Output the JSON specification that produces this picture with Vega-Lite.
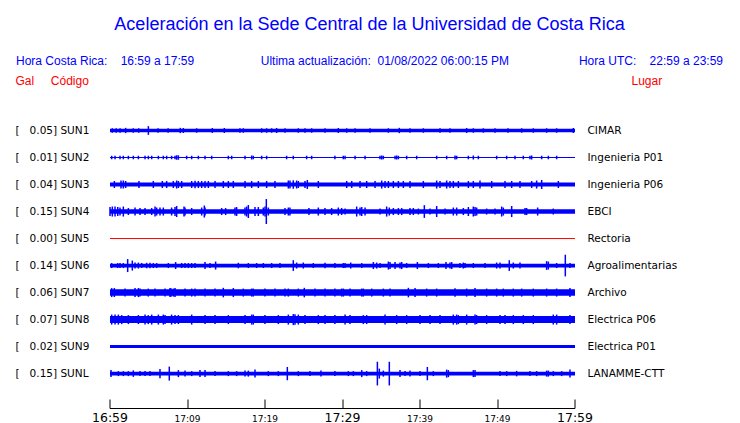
{
  "$schema": "https://vega.github.io/schema/vega-lite/v6.json",
  "width": 465,
  "height": 292,
  "autosize": {"type": "none"},
  "padding": {"left": 110, "top": 116.5, "right": 165, "bottom": 14.5},
  "background": "white",
  "title": {
    "text": "Aceleración en la Sede Central de la Universidad de Costa Rica",
    "subtitle": "Hora Costa Rica:\u00a0\u00a0\u00a0\u00a016:59 a 17:59\u00a0\u00a0\u00a0\u00a0\u00a0\u00a0\u00a0\u00a0\u00a0\u00a0\u00a0\u00a0\u00a0\u00a0\u00a0\u00a0\u00a0\u00a0\u00a0\u00a0Ultima actualización:\u00a0\u00a001/08/2022 06:00:15 PM\u00a0\u00a0\u00a0\u00a0\u00a0\u00a0\u00a0\u00a0\u00a0\u00a0\u00a0\u00a0\u00a0\u00a0\u00a0\u00a0\u00a0\u00a0\u00a0\u00a0\u00a0Hora UTC:\u00a0\u00a0\u00a0\u00a022:59 a 23:59",
    "anchor": "middle",
    "frame": "group",
    "dx": 27,
    "offset": 8,
    "font": "Liberation Sans",
    "fontSize": 18,
    "fontWeight": "normal",
    "color": "#0000ff",
    "subtitleFont": "Liberation Sans",
    "subtitleFontSize": 12,
    "subtitleColor": "#0000ff",
    "subtitlePadding": 22
  },
  "datasets": {
    "stations": [
      {"code": "SUN1", "gal": 0.05, "place": "CIMAR", "noise": 3.5},
      {"code": "SUN2", "gal": 0.01, "place": "Ingenieria P01", "noise": 1.2},
      {"code": "SUN3", "gal": 0.04, "place": "Ingenieria P06", "noise": 4},
      {"code": "SUN4", "gal": 0.15, "place": "EBCI", "noise": 4.5},
      {"code": "SUN5", "gal": 0.0, "place": "Rectoria", "noise": 1},
      {"code": "SUN6", "gal": 0.14, "place": "Agroalimentarias", "noise": 3.7},
      {"code": "SUN7", "gal": 0.06, "place": "Archivo", "noise": 6.5},
      {"code": "SUN8", "gal": 0.07, "place": "Electrica P06", "noise": 7},
      {"code": "SUN9", "gal": 0.02, "place": "Electrica P01", "noise": 3},
      {"code": "SUNL", "gal": 0.15, "place": "LANAMME-CTT", "noise": 3.7}
    ],
    "traces": [
      {"code":"SUN1","t":0.3,"amp":4.5},{"code":"SUN1","t":0.8,"amp":4.5},{"code":"SUN1","t":1.3,"amp":4.5},{"code":"SUN1","t":2.02,"amp":5.3},{"code":"SUN1","t":3.0,"amp":4.5},{"code":"SUN1","t":3.7,"amp":4.5},{"code":"SUN1","t":4.95,"amp":8.7},{"code":"SUN1","t":6.2,"amp":4.5},{"code":"SUN1","t":7.5,"amp":4.5},{"code":"SUN1","t":9.07,"amp":5.3},{"code":"SUN1","t":9.46,"amp":5},{"code":"SUN1","t":11.18,"amp":4.5},{"code":"SUN1","t":13.2,"amp":5},{"code":"SUN1","t":14.75,"amp":5},{"code":"SUN1","t":16.77,"amp":4.5},{"code":"SUN1","t":17.2,"amp":4.5},{"code":"SUN1","t":19.57,"amp":4.5},{"code":"SUN1","t":20.21,"amp":4.5},{"code":"SUN1","t":20.86,"amp":4.5},{"code":"SUN1","t":21.5,"amp":5},{"code":"SUN1","t":22.58,"amp":4.5},{"code":"SUN1","t":24.3,"amp":4.5},{"code":"SUN1","t":25.16,"amp":4.5},{"code":"SUN1","t":26.02,"amp":4.5},{"code":"SUN1","t":27.74,"amp":4.5},{"code":"SUN1","t":29.46,"amp":5},{"code":"SUN1","t":30.54,"amp":4.5},{"code":"SUN1","t":31.62,"amp":4.5},{"code":"SUN1","t":33.55,"amp":4.5},{"code":"SUN1","t":35.92,"amp":4.5},{"code":"SUN1","t":37.33,"amp":5.3},{"code":"SUN1","t":38.71,"amp":4.5},{"code":"SUN1","t":40.43,"amp":4.5},{"code":"SUN1","t":42.58,"amp":4.5},{"code":"SUN1","t":43.87,"amp":4.5},{"code":"SUN1","t":46.02,"amp":5},{"code":"SUN1","t":46.88,"amp":4.5},{"code":"SUN1","t":48.17,"amp":4.5},{"code":"SUN1","t":49.68,"amp":4.5},{"code":"SUN1","t":51.36,"amp":4.5},{"code":"SUN1","t":53.12,"amp":4.5},{"code":"SUN1","t":54.62,"amp":4.5},{"code":"SUN1","t":56.34,"amp":4.5},{"code":"SUN1","t":57.63,"amp":4.5},{"code":"SUN1","t":59.78,"amp":5},
      {"code":"SUN2","t":0.22,"amp":3.5},{"code":"SUN2","t":0.65,"amp":3.5},{"code":"SUN2","t":1.29,"amp":3.5},{"code":"SUN2","t":1.72,"amp":3.5},{"code":"SUN2","t":2.37,"amp":3.5},{"code":"SUN2","t":3.01,"amp":3.5},{"code":"SUN2","t":3.66,"amp":3.5},{"code":"SUN2","t":4.52,"amp":3.5},{"code":"SUN2","t":4.95,"amp":3.5},{"code":"SUN2","t":5.38,"amp":3.5},{"code":"SUN2","t":6.24,"amp":3.5},{"code":"SUN2","t":6.88,"amp":3.5},{"code":"SUN2","t":7.31,"amp":3.5},{"code":"SUN2","t":7.95,"amp":3.5},{"code":"SUN2","t":8.39,"amp":3.5},{"code":"SUN2","t":8.6,"amp":4.5},{"code":"SUN2","t":8.82,"amp":4.5},{"code":"SUN2","t":9.89,"amp":3.5},{"code":"SUN2","t":10.54,"amp":3.5},{"code":"SUN2","t":11.4,"amp":3.5},{"code":"SUN2","t":12.26,"amp":3.5},{"code":"SUN2","t":13.12,"amp":3.5},{"code":"SUN2","t":15.27,"amp":3.5},{"code":"SUN2","t":15.7,"amp":3.5},{"code":"SUN2","t":17.42,"amp":3.5},{"code":"SUN2","t":18.28,"amp":4},{"code":"SUN2","t":18.49,"amp":3.5},{"code":"SUN2","t":19.57,"amp":3.5},{"code":"SUN2","t":20.21,"amp":3.5},{"code":"SUN2","t":22.79,"amp":3.5},{"code":"SUN2","t":23.65,"amp":3.5},{"code":"SUN2","t":25.37,"amp":3.5},{"code":"SUN2","t":26.02,"amp":3.5},{"code":"SUN2","t":29.02,"amp":3.5},{"code":"SUN2","t":30.1,"amp":3.5},{"code":"SUN2","t":30.33,"amp":3.5},{"code":"SUN2","t":31.62,"amp":3.5},{"code":"SUN2","t":32.91,"amp":3.5},{"code":"SUN2","t":34.84,"amp":3.5},{"code":"SUN2","t":35.06,"amp":4},{"code":"SUN2","t":35.27,"amp":3.5},{"code":"SUN2","t":36.78,"amp":3.5},{"code":"SUN2","t":36.99,"amp":4},{"code":"SUN2","t":37.21,"amp":3.5},{"code":"SUN2","t":38.28,"amp":3.5},{"code":"SUN2","t":39.57,"amp":3.5},{"code":"SUN2","t":42.15,"amp":3.5},{"code":"SUN2","t":43.44,"amp":3.5},{"code":"SUN2","t":44.52,"amp":4},{"code":"SUN2","t":44.73,"amp":3.5},{"code":"SUN2","t":46.24,"amp":3.5},{"code":"SUN2","t":46.88,"amp":4},{"code":"SUN2","t":47.53,"amp":3.5},{"code":"SUN2","t":49.89,"amp":3.5},{"code":"SUN2","t":51.18,"amp":3.5},{"code":"SUN2","t":52.26,"amp":3.5},{"code":"SUN2","t":53.33,"amp":3.5},{"code":"SUN2","t":54.19,"amp":3.5},{"code":"SUN2","t":54.41,"amp":4},{"code":"SUN2","t":55.7,"amp":3.5},{"code":"SUN2","t":56.56,"amp":3.5},{"code":"SUN2","t":57.63,"amp":3.5},
      {"code":"SUN3","t":0.56,"amp":7},{"code":"SUN3","t":1.42,"amp":8},{"code":"SUN3","t":1.72,"amp":8},{"code":"SUN3","t":2.02,"amp":7},{"code":"SUN3","t":3.74,"amp":7},{"code":"SUN3","t":5.59,"amp":7},{"code":"SUN3","t":6.75,"amp":7},{"code":"SUN3","t":7.31,"amp":7},{"code":"SUN3","t":8.17,"amp":7},{"code":"SUN3","t":8.6,"amp":8},{"code":"SUN3","t":8.82,"amp":7},{"code":"SUN3","t":9.25,"amp":7},{"code":"SUN3","t":10.54,"amp":7},{"code":"SUN3","t":10.97,"amp":7.5},{"code":"SUN3","t":11.4,"amp":7},{"code":"SUN3","t":11.83,"amp":7},{"code":"SUN3","t":12.26,"amp":7},{"code":"SUN3","t":12.69,"amp":7},{"code":"SUN3","t":13.55,"amp":7},{"code":"SUN3","t":14.62,"amp":7},{"code":"SUN3","t":15.27,"amp":7},{"code":"SUN3","t":15.91,"amp":7},{"code":"SUN3","t":17.42,"amp":7},{"code":"SUN3","t":18.28,"amp":7},{"code":"SUN3","t":19.14,"amp":7},{"code":"SUN3","t":20.21,"amp":7},{"code":"SUN3","t":21.29,"amp":7},{"code":"SUN3","t":23.01,"amp":8},{"code":"SUN3","t":23.22,"amp":8},{"code":"SUN3","t":23.65,"amp":8.5},{"code":"SUN3","t":24.08,"amp":8},{"code":"SUN3","t":24.3,"amp":7},{"code":"SUN3","t":25.16,"amp":7},{"code":"SUN3","t":25.46,"amp":9},{"code":"SUN3","t":26.88,"amp":7},{"code":"SUN3","t":30.54,"amp":7},{"code":"SUN3","t":31.19,"amp":7},{"code":"SUN3","t":32.26,"amp":7},{"code":"SUN3","t":33.12,"amp":7},{"code":"SUN3","t":34.2,"amp":7},{"code":"SUN3","t":35.06,"amp":8},{"code":"SUN3","t":35.49,"amp":7},{"code":"SUN3","t":35.92,"amp":7},{"code":"SUN3","t":36.56,"amp":7},{"code":"SUN3","t":37.21,"amp":7},{"code":"SUN3","t":37.85,"amp":7},{"code":"SUN3","t":38.71,"amp":7},{"code":"SUN3","t":40.43,"amp":7},{"code":"SUN3","t":42.15,"amp":8},{"code":"SUN3","t":42.58,"amp":7},{"code":"SUN3","t":43.44,"amp":8},{"code":"SUN3","t":43.87,"amp":7},{"code":"SUN3","t":44.3,"amp":7},{"code":"SUN3","t":44.95,"amp":7},{"code":"SUN3","t":46.24,"amp":7},{"code":"SUN3","t":46.88,"amp":7},{"code":"SUN3","t":47.74,"amp":8},{"code":"SUN3","t":49.25,"amp":7},{"code":"SUN3","t":50.97,"amp":7},{"code":"SUN3","t":51.83,"amp":7},{"code":"SUN3","t":52.9,"amp":7},{"code":"SUN3","t":54.41,"amp":7},{"code":"SUN3","t":55.05,"amp":8},{"code":"SUN3","t":55.7,"amp":9},{"code":"SUN3","t":57.85,"amp":7},
      {"code":"SUN4","t":0.0,"amp":9},{"code":"SUN4","t":0.3,"amp":10},{"code":"SUN4","t":0.65,"amp":10},{"code":"SUN4","t":1.0,"amp":9},{"code":"SUN4","t":1.29,"amp":8},{"code":"SUN4","t":1.72,"amp":10},{"code":"SUN4","t":2.37,"amp":7},{"code":"SUN4","t":3.23,"amp":8},{"code":"SUN4","t":3.87,"amp":7},{"code":"SUN4","t":4.52,"amp":7},{"code":"SUN4","t":5.38,"amp":7},{"code":"SUN4","t":5.81,"amp":10},{"code":"SUN4","t":6.02,"amp":8},{"code":"SUN4","t":6.45,"amp":8},{"code":"SUN4","t":6.88,"amp":8},{"code":"SUN4","t":7.95,"amp":8},{"code":"SUN4","t":8.39,"amp":9},{"code":"SUN4","t":8.6,"amp":11},{"code":"SUN4","t":9.55,"amp":10},{"code":"SUN4","t":9.68,"amp":8},{"code":"SUN4","t":10.54,"amp":7},{"code":"SUN4","t":11.83,"amp":8},{"code":"SUN4","t":12.17,"amp":12},{"code":"SUN4","t":12.26,"amp":8},{"code":"SUN4","t":14.41,"amp":7},{"code":"SUN4","t":14.92,"amp":7},{"code":"SUN4","t":16.13,"amp":8},{"code":"SUN4","t":16.34,"amp":9},{"code":"SUN4","t":17.42,"amp":8},{"code":"SUN4","t":17.63,"amp":10},{"code":"SUN4","t":17.85,"amp":13},{"code":"SUN4","t":18.71,"amp":9},{"code":"SUN4","t":19.14,"amp":9},{"code":"SUN4","t":19.78,"amp":8},{"code":"SUN4","t":20.0,"amp":10},{"code":"SUN4","t":20.17,"amp":25},{"code":"SUN4","t":20.43,"amp":8},{"code":"SUN4","t":22.58,"amp":7},{"code":"SUN4","t":23.01,"amp":8},{"code":"SUN4","t":23.22,"amp":8},{"code":"SUN4","t":25.67,"amp":7},{"code":"SUN4","t":26.88,"amp":8},{"code":"SUN4","t":27.74,"amp":7},{"code":"SUN4","t":28.6,"amp":7},{"code":"SUN4","t":29.46,"amp":8},{"code":"SUN4","t":29.89,"amp":7},{"code":"SUN4","t":30.33,"amp":6},{"code":"SUN4","t":31.83,"amp":10},{"code":"SUN4","t":32.26,"amp":8},{"code":"SUN4","t":32.48,"amp":9},{"code":"SUN4","t":32.91,"amp":8},{"code":"SUN4","t":34.84,"amp":6},{"code":"SUN4","t":35.7,"amp":10},{"code":"SUN4","t":36.04,"amp":8},{"code":"SUN4","t":36.56,"amp":7},{"code":"SUN4","t":37.21,"amp":7},{"code":"SUN4","t":37.64,"amp":7},{"code":"SUN4","t":38.71,"amp":7},{"code":"SUN4","t":39.14,"amp":7},{"code":"SUN4","t":39.79,"amp":6},{"code":"SUN4","t":40.56,"amp":12.7},{"code":"SUN4","t":41.29,"amp":6},{"code":"SUN4","t":42.15,"amp":11},{"code":"SUN4","t":43.23,"amp":6},{"code":"SUN4","t":44.3,"amp":8},{"code":"SUN4","t":44.73,"amp":8},{"code":"SUN4","t":45.59,"amp":7},{"code":"SUN4","t":46.24,"amp":9},{"code":"SUN4","t":46.88,"amp":10},{"code":"SUN4","t":47.1,"amp":9},{"code":"SUN4","t":47.31,"amp":8},{"code":"SUN4","t":48.6,"amp":6},{"code":"SUN4","t":49.68,"amp":6},{"code":"SUN4","t":50.54,"amp":10},{"code":"SUN4","t":50.75,"amp":8},{"code":"SUN4","t":51.83,"amp":11},{"code":"SUN4","t":53.55,"amp":7},{"code":"SUN4","t":53.76,"amp":7},{"code":"SUN4","t":55.18,"amp":8},{"code":"SUN4","t":57.2,"amp":6},
      {"code":"SUN6","t":0.22,"amp":5},{"code":"SUN6","t":0.99,"amp":5},{"code":"SUN6","t":1.29,"amp":5},{"code":"SUN6","t":1.72,"amp":5},{"code":"SUN6","t":2.28,"amp":13},{"code":"SUN6","t":2.88,"amp":10},{"code":"SUN6","t":3.23,"amp":6},{"code":"SUN6","t":3.66,"amp":6},{"code":"SUN6","t":4.09,"amp":5},{"code":"SUN6","t":4.73,"amp":5.5},{"code":"SUN6","t":5.16,"amp":5.5},{"code":"SUN6","t":5.59,"amp":5},{"code":"SUN6","t":6.02,"amp":5},{"code":"SUN6","t":7.53,"amp":5},{"code":"SUN6","t":8.47,"amp":7},{"code":"SUN6","t":9.25,"amp":5},{"code":"SUN6","t":9.68,"amp":5},{"code":"SUN6","t":10.11,"amp":5},{"code":"SUN6","t":10.54,"amp":5},{"code":"SUN6","t":10.97,"amp":5},{"code":"SUN6","t":12.26,"amp":7},{"code":"SUN6","t":12.9,"amp":5},{"code":"SUN6","t":13.63,"amp":8},{"code":"SUN6","t":16.56,"amp":5.5},{"code":"SUN6","t":17.85,"amp":5},{"code":"SUN6","t":18.92,"amp":5},{"code":"SUN6","t":19.78,"amp":5},{"code":"SUN6","t":20.86,"amp":5},{"code":"SUN6","t":21.93,"amp":5},{"code":"SUN6","t":23.65,"amp":10.7},{"code":"SUN6","t":24.08,"amp":6},{"code":"SUN6","t":24.94,"amp":6},{"code":"SUN6","t":26.23,"amp":5},{"code":"SUN6","t":27.74,"amp":5.5},{"code":"SUN6","t":29.02,"amp":5},{"code":"SUN6","t":30.1,"amp":5},{"code":"SUN6","t":30.33,"amp":5},{"code":"SUN6","t":31.06,"amp":6},{"code":"SUN6","t":32.48,"amp":5},{"code":"SUN6","t":33.98,"amp":7},{"code":"SUN6","t":34.41,"amp":6},{"code":"SUN6","t":34.84,"amp":5},{"code":"SUN6","t":35.92,"amp":8},{"code":"SUN6","t":36.13,"amp":7},{"code":"SUN6","t":36.78,"amp":7},{"code":"SUN6","t":37.42,"amp":6},{"code":"SUN6","t":37.64,"amp":7},{"code":"SUN6","t":38.28,"amp":5},{"code":"SUN6","t":39.66,"amp":7},{"code":"SUN6","t":41.08,"amp":5},{"code":"SUN6","t":42.37,"amp":5},{"code":"SUN6","t":43.35,"amp":7},{"code":"SUN6","t":43.87,"amp":6},{"code":"SUN6","t":44.09,"amp":7},{"code":"SUN6","t":45.16,"amp":5},{"code":"SUN6","t":45.59,"amp":6},{"code":"SUN6","t":45.81,"amp":5},{"code":"SUN6","t":46.88,"amp":5},{"code":"SUN6","t":48.39,"amp":5},{"code":"SUN6","t":49.89,"amp":6},{"code":"SUN6","t":50.32,"amp":6},{"code":"SUN6","t":51.52,"amp":10.7},{"code":"SUN6","t":52.04,"amp":6},{"code":"SUN6","t":52.9,"amp":6},{"code":"SUN6","t":56.34,"amp":8.7},{"code":"SUN6","t":56.56,"amp":8},{"code":"SUN6","t":57.63,"amp":5},{"code":"SUN6","t":58.75,"amp":21.7},{"code":"SUN6","t":59.35,"amp":5},
      {"code":"SUN7","t":0.22,"amp":9},{"code":"SUN7","t":0.56,"amp":9},{"code":"SUN7","t":1.94,"amp":8},{"code":"SUN7","t":3.23,"amp":9},{"code":"SUN7","t":3.66,"amp":9},{"code":"SUN7","t":3.87,"amp":8},{"code":"SUN7","t":4.94,"amp":8},{"code":"SUN7","t":5.81,"amp":8},{"code":"SUN7","t":7.1,"amp":8},{"code":"SUN7","t":7.74,"amp":9},{"code":"SUN7","t":7.87,"amp":8.5},{"code":"SUN7","t":8.17,"amp":8},{"code":"SUN7","t":8.39,"amp":9},{"code":"SUN7","t":9.68,"amp":8},{"code":"SUN7","t":10.54,"amp":8},{"code":"SUN7","t":10.97,"amp":8},{"code":"SUN7","t":12.26,"amp":8},{"code":"SUN7","t":13.55,"amp":8},{"code":"SUN7","t":14.62,"amp":9.5},{"code":"SUN7","t":15.91,"amp":9},{"code":"SUN7","t":17.2,"amp":8},{"code":"SUN7","t":18.28,"amp":8},{"code":"SUN7","t":18.49,"amp":8},{"code":"SUN7","t":19.99,"amp":8},{"code":"SUN7","t":21.29,"amp":8},{"code":"SUN7","t":22.58,"amp":8},{"code":"SUN7","t":23.01,"amp":8},{"code":"SUN7","t":24.3,"amp":8},{"code":"SUN7","t":25.07,"amp":9.5},{"code":"SUN7","t":26.45,"amp":8},{"code":"SUN7","t":27.74,"amp":8},{"code":"SUN7","t":29.02,"amp":8},{"code":"SUN7","t":29.89,"amp":8},{"code":"SUN7","t":30.11,"amp":8},{"code":"SUN7","t":30.97,"amp":8},{"code":"SUN7","t":32.48,"amp":8},{"code":"SUN7","t":32.69,"amp":8},{"code":"SUN7","t":33.77,"amp":8},{"code":"SUN7","t":35.27,"amp":8},{"code":"SUN7","t":36.13,"amp":8},{"code":"SUN7","t":38.5,"amp":9.5},{"code":"SUN7","t":39.36,"amp":9},{"code":"SUN7","t":40.86,"amp":8},{"code":"SUN7","t":42.15,"amp":8},{"code":"SUN7","t":44.52,"amp":8.5},{"code":"SUN7","t":46.02,"amp":8},{"code":"SUN7","t":47.1,"amp":9},{"code":"SUN7","t":48.6,"amp":8},{"code":"SUN7","t":49.89,"amp":8},{"code":"SUN7","t":50.75,"amp":8},{"code":"SUN7","t":52.04,"amp":8},{"code":"SUN7","t":53.12,"amp":8},{"code":"SUN7","t":54.62,"amp":8},{"code":"SUN7","t":56.34,"amp":8},{"code":"SUN7","t":57.63,"amp":8},{"code":"SUN7","t":59.35,"amp":9},
      {"code":"SUN8","t":0.22,"amp":10},{"code":"SUN8","t":0.65,"amp":10},{"code":"SUN8","t":1.08,"amp":10},{"code":"SUN8","t":1.51,"amp":9},{"code":"SUN8","t":2.37,"amp":9},{"code":"SUN8","t":3.66,"amp":9},{"code":"SUN8","t":4.52,"amp":10},{"code":"SUN8","t":4.94,"amp":9},{"code":"SUN8","t":5.38,"amp":10},{"code":"SUN8","t":6.24,"amp":10},{"code":"SUN8","t":6.88,"amp":10},{"code":"SUN8","t":7.1,"amp":9},{"code":"SUN8","t":7.95,"amp":10},{"code":"SUN8","t":8.39,"amp":9},{"code":"SUN8","t":8.82,"amp":9},{"code":"SUN8","t":10.54,"amp":10},{"code":"SUN8","t":12.26,"amp":9},{"code":"SUN8","t":13.55,"amp":9},{"code":"SUN8","t":15.27,"amp":9},{"code":"SUN8","t":17.42,"amp":9},{"code":"SUN8","t":18.28,"amp":10},{"code":"SUN8","t":18.49,"amp":10},{"code":"SUN8","t":19.99,"amp":9},{"code":"SUN8","t":21.72,"amp":9},{"code":"SUN8","t":23.01,"amp":10},{"code":"SUN8","t":23.65,"amp":11},{"code":"SUN8","t":23.87,"amp":10.5},{"code":"SUN8","t":24.3,"amp":10},{"code":"SUN8","t":25.16,"amp":9},{"code":"SUN8","t":26.88,"amp":9},{"code":"SUN8","t":27.74,"amp":9},{"code":"SUN8","t":29.02,"amp":9},{"code":"SUN8","t":30.33,"amp":10},{"code":"SUN8","t":30.97,"amp":9},{"code":"SUN8","t":32.69,"amp":9},{"code":"SUN8","t":33.12,"amp":9},{"code":"SUN8","t":35.49,"amp":10},{"code":"SUN8","t":36.99,"amp":9},{"code":"SUN8","t":38.28,"amp":9},{"code":"SUN8","t":40.0,"amp":9},{"code":"SUN8","t":41.29,"amp":9},{"code":"SUN8","t":42.58,"amp":9},{"code":"SUN8","t":44.3,"amp":10},{"code":"SUN8","t":44.73,"amp":10},{"code":"SUN8","t":44.95,"amp":9},{"code":"SUN8","t":46.02,"amp":10},{"code":"SUN8","t":47.1,"amp":10},{"code":"SUN8","t":47.31,"amp":9},{"code":"SUN8","t":48.6,"amp":9},{"code":"SUN8","t":50.32,"amp":9},{"code":"SUN8","t":50.97,"amp":9},{"code":"SUN8","t":52.04,"amp":9},{"code":"SUN8","t":53.33,"amp":9},{"code":"SUN8","t":54.62,"amp":9},{"code":"SUN8","t":57.2,"amp":10},{"code":"SUN8","t":57.63,"amp":10},{"code":"SUN8","t":59.35,"amp":9},
      {"code":"SUNL","t":0.13,"amp":7},{"code":"SUNL","t":1.08,"amp":5},{"code":"SUNL","t":1.72,"amp":5},{"code":"SUNL","t":2.37,"amp":5},{"code":"SUNL","t":3.01,"amp":6.5},{"code":"SUNL","t":3.87,"amp":5},{"code":"SUNL","t":4.52,"amp":5},{"code":"SUNL","t":5.16,"amp":5},{"code":"SUNL","t":6.45,"amp":9.3},{"code":"SUNL","t":7.65,"amp":14},{"code":"SUNL","t":8.82,"amp":7},{"code":"SUNL","t":9.68,"amp":6},{"code":"SUNL","t":10.54,"amp":5},{"code":"SUNL","t":11.61,"amp":7},{"code":"SUNL","t":12.26,"amp":7},{"code":"SUNL","t":13.55,"amp":5},{"code":"SUNL","t":15.27,"amp":5},{"code":"SUNL","t":16.34,"amp":5},{"code":"SUNL","t":17.42,"amp":6},{"code":"SUNL","t":17.85,"amp":6},{"code":"SUNL","t":18.71,"amp":8},{"code":"SUNL","t":20.43,"amp":5},{"code":"SUNL","t":21.72,"amp":5},{"code":"SUNL","t":22.88,"amp":13.3},{"code":"SUNL","t":24.3,"amp":5},{"code":"SUNL","t":25.8,"amp":5},{"code":"SUNL","t":27.22,"amp":6},{"code":"SUNL","t":29.02,"amp":5},{"code":"SUNL","t":30.76,"amp":5},{"code":"SUNL","t":31.4,"amp":5},{"code":"SUNL","t":32.48,"amp":7},{"code":"SUNL","t":33.12,"amp":5},{"code":"SUNL","t":34.5,"amp":23.7},{"code":"SUNL","t":34.75,"amp":10},{"code":"SUNL","t":35.27,"amp":6},{"code":"SUNL","t":36.04,"amp":23.7},{"code":"SUNL","t":37.42,"amp":7},{"code":"SUNL","t":38.07,"amp":5},{"code":"SUNL","t":38.71,"amp":6},{"code":"SUNL","t":40.0,"amp":5},{"code":"SUNL","t":40.95,"amp":13.3},{"code":"SUNL","t":41.72,"amp":5},{"code":"SUNL","t":43.44,"amp":8},{"code":"SUNL","t":43.66,"amp":7},{"code":"SUNL","t":46.88,"amp":7},{"code":"SUNL","t":47.1,"amp":7},{"code":"SUNL","t":50.32,"amp":5},{"code":"SUNL","t":51.18,"amp":5},{"code":"SUNL","t":52.47,"amp":5.5},{"code":"SUNL","t":54.19,"amp":5},{"code":"SUNL","t":55.05,"amp":5},{"code":"SUNL","t":56.34,"amp":6},{"code":"SUNL","t":56.56,"amp":6},{"code":"SUNL","t":57.2,"amp":5},{"code":"SUNL","t":58.28,"amp":5},{"code":"SUNL","t":59.35,"amp":8}
    ]
  },
  "layer": [
    {
      "data": {"name": "stations"},
      "mark": {"type": "rule", "strokeCap": "butt"},
      "encoding": {
        "x": {"datum": 0, "type": "quantitative", "scale": {"domain": [0, 60], "nice": false, "zero": false}},
        "x2": {"datum": 60},
        "y": {
          "field": "code", "type": "nominal",
          "scale": {"type": "point", "domain": ["SUN1","SUN2","SUN3","SUN4","SUN5","SUN6","SUN7","SUN8","SUN9","SUNL"], "padding": 0.905, "align": 0.2863},
          "axis": {
            "orient": "left",
            "labelExpr": "['[\u00a0\u00a0\u00a00.05]\u00a0SUN1','[\u00a0\u00a0\u00a00.01]\u00a0SUN2','[\u00a0\u00a0\u00a00.04]\u00a0SUN3','[\u00a0\u00a0\u00a00.15]\u00a0SUN4','[\u00a0\u00a0\u00a00.00]\u00a0SUN5','[\u00a0\u00a0\u00a00.14]\u00a0SUN6','[\u00a0\u00a0\u00a00.06]\u00a0SUN7','[\u00a0\u00a0\u00a00.07]\u00a0SUN8','[\u00a0\u00a0\u00a00.02]\u00a0SUN9','[\u00a0\u00a0\u00a00.15]\u00a0SUNL'][indexof(['SUN1','SUN2','SUN3','SUN4','SUN5','SUN6','SUN7','SUN8','SUN9','SUNL'], datum.value)]",
            "labelAlign": "left",
            "labelPadding": 95,
            "labelFont": "DejaVu Sans",
            "labelFontSize": 10.5,
            "labelColor": "black",
            "ticks": false,
            "domain": false,
            "grid": false,
            "title": "Gal\u00a0\u00a0\u00a0\u00a0\u00a0Código",
            "titleAngle": 0,
            "titleAlign": "left",
            "titleBaseline": "alphabetic",
            "titleX": -95,
            "titleY": -32,
            "titleColor": "#ff0000",
            "titleFont": "Liberation Sans",
            "titleFontSize": 12,
            "titleFontWeight": "normal"
          }
        },
        "strokeWidth": {"field": "noise", "type": "quantitative", "scale": {"domain": [0, 25], "range": [0, 25]}, "legend": null},
        "color": {
          "field": "code", "type": "nominal",
          "scale": {"domain": ["SUN1","SUN2","SUN3","SUN4","SUN5","SUN6","SUN7","SUN8","SUN9","SUNL"], "range": ["#0000ff","#0000ff","#0000ff","#0000ff","#ff0000","#0000ff","#0000ff","#0000ff","#0000ff","#0000ff"]},
          "legend": null
        }
      }
    },
    {
      "data": {"name": "traces"},
      "mark": {"type": "tick", "thickness": 1.5, "color": "#0000ff", "opacity": 1},
      "encoding": {
        "x": {
          "field": "t", "type": "quantitative",
          "scale": {"domain": [0, 60], "nice": false, "zero": false},
          "axis": {
            "values": [0, 5, 10, 15, 20, 25, 30, 35, 40, 45, 50, 55, 60],
            "labelExpr": "datum.value % 10 == 0 ? ['16:59','17:09','17:19','17:29','17:39','17:49','17:59'][datum.value / 10] : ''",
            "labelFontSize": {"condition": {"test": "datum.value % 30 == 0", "value": 12.5}, "value": 9},
            "labelFont": "DejaVu Sans",
            "labelColor": "black",
            "labelBaseline": "alphabetic",
            "labelPadding": 22,
            "labelFlush": false,
            "labelOverlap": false,
            "labelBound": false,
            "tickSize": -9,
            "tickColor": "black",
            "domainColor": "black",
            "translate": 0,
            "grid": false,
            "title": null
          }
        },
        "y": {
          "field": "code", "type": "nominal",
          "scale": {"type": "point", "domain": ["SUN1","SUN2","SUN3","SUN4","SUN5","SUN6","SUN7","SUN8","SUN9","SUNL"], "padding": 0.905, "align": 0.2863},
          "axis": {
            "orient": "right",
            "labelExpr": "['CIMAR','Ingenieria P01','Ingenieria P06','EBCI','Rectoria','Agroalimentarias','Archivo','Electrica P06','Electrica P01','LANAMME-CTT'][indexof(['SUN1','SUN2','SUN3','SUN4','SUN5','SUN6','SUN7','SUN8','SUN9','SUNL'], datum.value)]",
            "labelPadding": 12,
            "labelFont": "DejaVu Sans",
            "labelFontSize": 10.5,
            "labelColor": "black",
            "ticks": false,
            "domain": false,
            "grid": false,
            "title": "Lugar",
            "titleAngle": 0,
            "titleAlign": "left",
            "titleBaseline": "alphabetic",
            "titleX": 56,
            "titleY": -32,
            "titleColor": "#ff0000",
            "titleFont": "Liberation Sans",
            "titleFontSize": 12,
            "titleFontWeight": "normal"
          }
        },
        "size": {"field": "amp", "type": "quantitative", "scale": {"domain": [0, 25], "range": [0, 25]}, "legend": null}
      }
    }
  ],
  "resolve": {"axis": {"y": "independent"}},
  "config": {"view": {"stroke": null}}
}
